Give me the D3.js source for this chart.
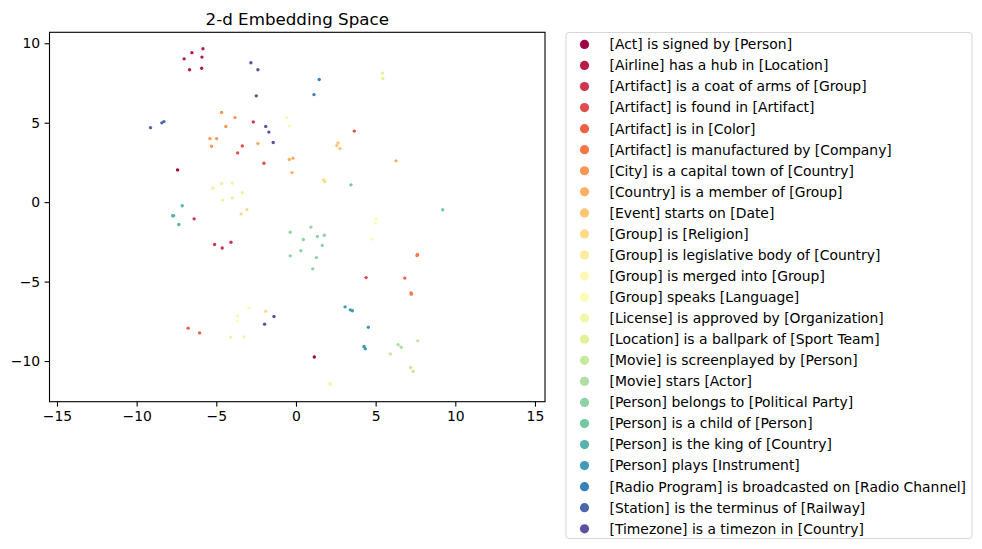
<!DOCTYPE html>
<html>
<head>
<meta charset="utf-8">
<script src="https://cdn.jsdelivr.net/npm/d3@7"></script>
<style>
  html, body { margin: 0; padding: 0; background: #fff; }
  svg { display: block; font-family: "DejaVu Sans", sans-serif; }
</style>
</head>
<body>
<svg id="chart" width="982" height="549"></svg>
<script>
const title = "2-d Embedding Space";
const categories = [
  "[Act] is signed by [Person]",
  "[Airline] has a hub in [Location]",
  "[Artifact] is a coat of arms of [Group]",
  "[Artifact] is found in [Artifact]",
  "[Artifact] is in [Color]",
  "[Artifact] is manufactured by [Company]",
  "[City] is a capital town of [Country]",
  "[Country] is a member of [Group]",
  "[Event] starts on [Date]",
  "[Group] is [Religion]",
  "[Group] is legislative body of [Country]",
  "[Group] is merged into [Group]",
  "[Group] speaks [Language]",
  "[License] is approved by [Organization]",
  "[Location] is a ballpark of [Sport Team]",
  "[Movie] is screenplayed by [Person]",
  "[Movie] stars [Actor]",
  "[Person] belongs to [Political Party]",
  "[Person] is a child of [Person]",
  "[Person] is the king of [Country]",
  "[Person] plays [Instrument]",
  "[Radio Program] is broadcasted on [Radio Channel]",
  "[Station] is the terminus of [Railway]",
  "[Timezone] is a timezon in [Country]"
];
// x values per category
const xValues = [
  [1.15, -7.43],
  [-5.84, -6.53, -5.90, -7.02, -6.68, -5.92],
  [-2.68, -5.11, -4.63, -4.08, -6.39],
  [-3.37, -3.66, -2.01, 3.66, 4.40],
  [-6.77, -6.05, 6.83],
  [7.60, 7.63, 7.24, 7.22],
  [-4.67, -3.83, -4.40, -5.40, -4.98, -5.30],
  [-2.39, -0.42, -0.19, -0.25, 6.28],
  [2.64, 2.56, 2.76],
  [1.74, 1.82, -1.90, -3.08, -3.44],
  [-5.21, -4.67, -4.00, -3.37, -4.00, -4.60],
  [-0.58, -0.42, -2.95, -3.66],
  [5.01, 4.98, 4.75, -3.69],
  [2.14, 2.15, -4.10, -3.27],
  [5.42, 5.45],
  [7.64, 5.92, 7.20, 7.35],
  [6.41, 6.60],
  [0.94, -0.36, 0.46, 1.34, 1.78, 1.65, 0.31, -0.36, 1.28, 1.05],
  [3.45, 9.21],
  [-7.14, -7.68, -7.74, -7.35],
  [3.08, 3.41, 3.54, 4.54, 4.27, 4.35],
  [1.46, 1.13],
  [-9.13, -8.42, -8.29],
  [-2.83, -2.39, -2.49, -1.90, -1.70, -1.43, -1.38, -1.97]
];
// y values per category
const yValues = [
  [-9.75, 2.03],
  [9.65, 9.41, 9.13, 9.02, 8.33, 8.43],
  [5.05, -2.67, -2.89, -2.52, -1.05],
  [3.54, 3.10, 2.45, 4.47, -4.75],
  [-7.93, -8.23, -4.78],
  [-3.36, -3.29, -5.79, -5.71],
  [5.64, 5.32, 4.76, 4.00, 4.00, 3.52],
  [3.69, 2.68, 2.77, 1.86, 2.60],
  [3.73, 3.56, 3.37],
  [1.40, 1.30, -6.86, -0.47, -0.74],
  [0.88, 1.17, 1.20, 0.59, 0.27, 0.13],
  [5.32, 4.80, -6.67, -7.17],
  [-1.07, -1.32, -2.33, -7.49],
  [-11.39, -11.48, -8.50, -8.48],
  [8.12, 7.78],
  [-8.73, -9.55, -10.41, -10.64],
  [-8.98, -9.13],
  [-1.57, -1.89, -2.35, -2.16, -2.08, -2.73, -3.06, -3.38, -3.49, -4.20],
  [1.09, -0.48],
  [-0.23, -0.86, -0.86, -1.41],
  [-6.59, -6.78, -6.84, -7.87, -9.09, -9.23],
  [7.72, 6.77],
  [4.69, 4.99, 5.07],
  [8.77, 8.33, 6.69, 4.76, 4.41, 3.75, -7.20, -7.68]
];
const xTicks = [-15, -10, -5, 0, 5, 10, 15];
const yTicks = [-10, -5, 0, 5, 10];
const spectral = ["#9e0142","#d53e4f","#f46d43","#fdae61","#fee08b","#ffffbf","#e6f598","#abdda4","#66c2a5","#3288bd","#5e4fa2"];

const svg = d3.select("#chart");
const plot = {left: 49.5, right: 545, top: 32.3, bottom: 401.7};
const x = d3.scaleLinear().domain([-15.47, 15.63]).range([plot.left, plot.right]);
const y = d3.scaleLinear().domain([-12.56, 10.69]).range([plot.bottom, plot.top]);
const cmap = d3.piecewise(d3.interpolateRgb, spectral);
const color = d3.scaleOrdinal().domain(categories)
  .range(categories.map((c, i) => cmap(i / (categories.length - 1))));

const points = [];
categories.forEach((c, i) => {
  xValues[i].forEach((vx, j) => points.push({cat: c, x: vx, y: yValues[i][j]}));
});

svg.append("g").selectAll("circle").data(points).join("circle")
  .attr("cx", d => x(d.x)).attr("cy", d => y(d.y)).attr("r", 1.7)
  .attr("fill", d => color(d.cat));

svg.append("rect")
  .attr("x", plot.left).attr("y", plot.top)
  .attr("width", plot.right - plot.left).attr("height", plot.bottom - plot.top)
  .attr("fill", "none").attr("stroke", "#000").attr("stroke-width", 1.1);

const xAxis = svg.append("g").attr("transform", `translate(0,${plot.bottom})`)
  .call(d3.axisBottom(x).tickValues(xTicks).tickSize(4.9).tickPadding(4.5));
const yAxis = svg.append("g").attr("transform", `translate(${plot.left},0)`)
  .call(d3.axisLeft(y).tickValues(yTicks).tickSize(4.9).tickPadding(4.5));
[xAxis, yAxis].forEach(a => {
  a.select(".domain").remove();
  a.selectAll("line").attr("stroke", "#000").attr("stroke-width", 1.1);
  a.selectAll("text").attr("font-size", "13.9px").attr("fill", "#000")
    .attr("font-family", "DejaVu Sans, sans-serif");
});

svg.append("text").attr("x", (plot.left + plot.right) / 2).attr("y", 24.5)
  .attr("text-anchor", "middle").attr("font-size", "16.7px").attr("fill", "#000")
  .text(title);

// legend
const lg = svg.append("g");
lg.append("rect").attr("x", 566).attr("y", 32.5).attr("width", 406).attr("height", 506)
  .attr("rx", 3).attr("fill", "#fff").attr("stroke", "#d6d6d6").attr("stroke-width", 1);
const rows = lg.selectAll("g.row").data(categories).join("g")
  .attr("transform", (d, i) => `translate(0,${44.4 + i * 21.06})`);
rows.append("circle").attr("cx", 584.5).attr("cy", 0).attr("r", 4.6).attr("fill", d => color(d));
rows.append("text").attr("x", 609.5).attr("y", 0).attr("dy", "0.35em")
  .attr("font-size", "13.9px").attr("fill", "#000").text(d => d);
</script>
</body>
</html>
